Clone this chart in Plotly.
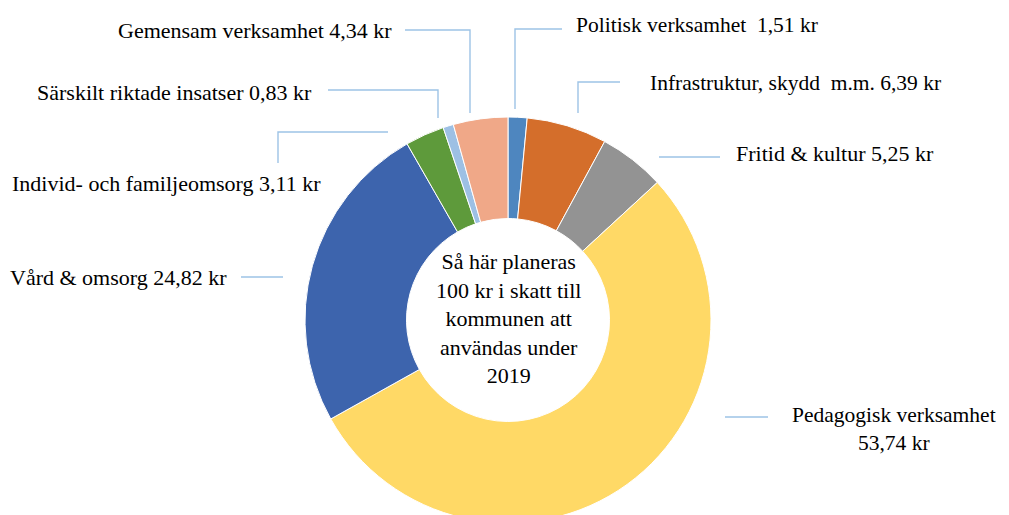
import plotly.graph_objects as go

categories = [
    "Politisk verksamhet",
    "Infrastruktur, skydd m.m.",
    "Fritid & kultur",
    "Pedagogisk verksamhet",
    "Vård & omsorg",
    "Individ- och familjeomsorg",
    "Särskilt riktade insatser",
    "Gemensam verksamhet",
]
values = [1.51, 6.39, 5.25, 53.74, 24.82, 3.11, 0.83, 4.34]
colors = ["#4E86BF", "#D46E2B", "#939393", "#FFD966", "#3D64AD", "#5E9A3B", "#9DC0E4", "#F0A888"]
label_texts = [
    "Politisk verksamhet  1,51 kr",
    "Infrastruktur, skydd  m.m. 6,39 kr",
    "Fritid & kultur 5,25 kr",
    "Pedagogisk verksamhet<br>53,74 kr",
    "Vård & omsorg 24,82 kr",
    "Individ- och familjeomsorg 3,11 kr",
    "Särskilt riktade insatser 0,83 kr",
    "Gemensam verksamhet 4,34 kr",
]
center_text = "Så här planeras<br>100 kr i skatt till<br>kommunen att<br>användas under<br>2019"

W, H = 1009, 515
OFF = 8  # page body margin
FONT = "Liberation Serif, Times New Roman, serif"
LINE_COLOR = "#9DC3E6"

def px(x):
    return (x - OFF) / W

def py(y):
    return 1 - (y - OFF) / H

# label layout (screen pixels): x, y, anchor, align
label_pos = [
    (574, 25, "left", "left"),
    (648, 83, "left", "left"),
    (734, 154, "left", "left"),
    (894, 429, "center", "center"),
    (229, 277, "right", "right"),
    (323, 183, "right", "right"),
    (314, 92, "right", "right"),
    (394, 30, "right", "right"),
]
label_sizes = [21.5, 21.5, 22, 21.5, 22, 22, 22, 22]
# leader polylines (screen pixels)
leaders = [
    [(562, 29), (515, 29), (515, 109)],
    [(620, 82), (578, 82), (578, 113)],
    [(720, 157), (659, 157)],
    [(768, 417), (725, 417)],
    [(241, 277), (283, 277)],
    [(278, 163), (278, 132), (388, 132)],
    [(328, 90), (438, 90), (438, 118)],
    [(405, 30), (470, 30), (470, 113)],
]

cx, cy, r = 508, 320, 203

fig = go.Figure(go.Pie(
    labels=categories,
    values=values,
    hole=0.5,
    sort=False,
    direction="clockwise",
    rotation=0,
    marker=dict(colors=colors, line=dict(color="white", width=1)),
    textinfo="none",
    hoverinfo="label+value",
    domain=dict(x=[px(cx - r), px(cx + r)], y=[max(0, py(cy + r)), py(cy - r)]),
    showlegend=False,
))

annotations = []
for txt, (x, y, anc, al), sz in zip(label_texts, label_pos, label_sizes):
    annotations.append(dict(
        x=px(x), y=py(y), xref="paper", yref="paper",
        text=txt, showarrow=False, xanchor=anc, yanchor="middle", align=al,
        font=dict(family=FONT, size=sz, color="#000000"),
    ))
annotations.append(dict(
    x=px(cx), y=py(318), xref="paper", yref="paper",
    text=center_text, showarrow=False, xanchor="center", yanchor="middle", align="center",
    font=dict(family=FONT, size=22, color="#000000"),
))

shapes = []
for pts in leaders:
    path = "M " + " L ".join(f"{px(x)},{py(y)}" for x, y in pts)
    shapes.append(dict(type="path", path=path, xref="paper", yref="paper",
                       line=dict(color=LINE_COLOR, width=1.4)))

fig.update_layout(
    width=W, height=H,
    margin=dict(l=0, r=0, t=0, b=0),
    paper_bgcolor="white",
    plot_bgcolor="white",
    annotations=annotations,
    shapes=shapes,
)

fig.write_html("out.html")
